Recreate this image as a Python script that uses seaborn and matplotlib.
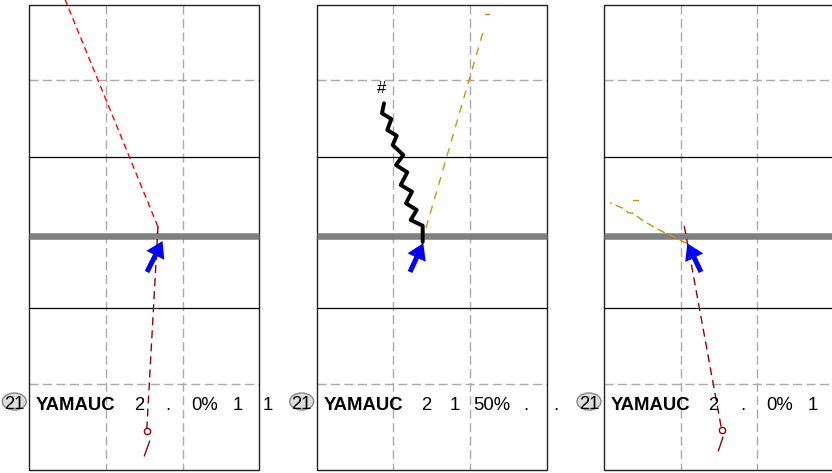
import matplotlib
matplotlib.use('Agg')
import matplotlib.pyplot as plt
from matplotlib.patches import Rectangle, Ellipse, FancyArrow
import numpy as np
import pandas as pd
import seaborn as sns

sns.set_theme(style='white')
plt.rcParams['font.family'] = ['Liberation Sans', 'DejaVu Sans']
plt.rcParams['text.color'] = 'black'

# 三个面板（像素坐标）
panel_left = [29.3, 316.7, 604.0]
player_no = '21'
player_name = 'YAMAUC'
stats = [['2', '.', '0%', '1', '1'],
         ['2', '1', '50%', '.', '.'],
         ['2', '.', '0%', '1']]
stat_x = [109.4, 138.5, 175.3, 208.8, 238.8]  # 相对面板左边

# 面板1
red1_x = [62, 158]
red1_y = [-8, 227]
maroon1_x = [158, 146.7]
maroon1_y = [226, 431]
maroon1_end_x = [149.7, 144.3]
maroon1_end_y = [441, 456]
arrow1 = (147, 272, 162.5, 241)

# 面板2
zig_x = [384, 382, 391.3, 387.3, 396.7, 392.7, 403.3, 396, 407.3, 400.7, 412, 406, 416.7, 410.7, 422.7, 422.7]
zig_y = [103.3, 113.3, 119, 130, 135.7, 145, 155, 165, 172.3, 185, 191.7, 203.3, 210, 220, 225.7, 242]
gold2_x = [426, 484.5]
gold2_y = [228, 27]
gold2_tick_x = [485, 489]
gold2_tick_y = [14, 14]
arrow2 = (410, 272, 423.3, 243)

# 面板3
gold3_x = [686.7, 658, 643, 633, 628, 626, 623, 615, 610]
gold3_y = [243.3, 229.3, 220.7, 213.3, 212.7, 210.7, 208.3, 205, 202.7]
gold3_tick_x = [633, 638]
gold3_tick_y = [200, 200]
maroon3_x = [684.3, 721.7]
maroon3_y = [226, 430]
maroon3_end_x = [723, 718.3]
maroon3_end_y = [437, 451]
arrow3 = (701, 272, 687.3, 243.3)

W, TOP, BOT = 230, 4.7, 470.3
NET_Y = 235.7
RED = '#ff0000'
MAROON = '#990000'
GOLD = '#c8960c'

fig = plt.figure(figsize=(8.32, 4.73), dpi=100)
ax = fig.add_axes([0, 0, 1, 1])
ax.set_xlim(0, 832)
ax.set_ylim(473, 0)
ax.axis('off')

for L in panel_left:
    for gx in (L + W / 3, L + 2 * W / 3):
        ax.plot([gx, gx], [TOP, BOT], color='#aaaaaa', lw=1, ls=(0, (6.5, 3.2)), zorder=1)
    for gy in (80.3, 384):
        ax.plot([L, L + W], [gy, gy], color='#aaaaaa', lw=1, ls=(0, (6.5, 3.2)), zorder=1)
    for gy in (156.7, 308.3):
        ax.plot([L, L + W], [gy, gy], color='black', lw=0.9, zorder=2)
    ax.add_patch(Rectangle((L, TOP), W, BOT - TOP, fill=False, ec='#222222', lw=1, zorder=2))
    ax.plot([L, L + W], [NET_Y, NET_Y], color='#808080', lw=4.7, solid_capstyle='butt', zorder=3)


def path(x, y, color, ls, lw=1.0):
    df = pd.DataFrame({'x': x, 'y': y})
    sns.lineplot(data=df, x='x', y='y', ax=ax, sort=False, estimator=None,
                 color=color, lw=lw, linestyle=ls, zorder=4)


# 面板1
path(red1_x, red1_y, RED, (0, (4.5, 3)))
path(maroon1_x, maroon1_y, MAROON, (0, (5.8, 3.6)))
path(maroon1_end_x, maroon1_end_y, MAROON, '-')
ax.plot(maroon1_x[-1], maroon1_y[-1], 'o', ms=4.5, mfc='white', mec=MAROON, mew=1, zorder=5)

# 面板2
path(zig_x, zig_y, 'black', '-', lw=2.8)
path(gold2_x, gold2_y, GOLD, (0, (5.8, 5)))
path(gold2_tick_x, gold2_tick_y, GOLD, '-')
ax.text(381.7, 88.3, '#', fontsize=12, ha='center', va='center', color='black')

# 面板3
path(gold3_x, gold3_y, GOLD, (0, (5.8, 3)))
path(gold3_tick_x, gold3_tick_y, GOLD, '-')
path(maroon3_x, maroon3_y, MAROON, (0, (5.8, 3.6)))
path(maroon3_end_x, maroon3_end_y, MAROON, '-')
ax.plot(maroon3_x[-1], maroon3_y[-1], 'o', ms=4.5, mfc='white', mec=MAROON, mew=1, zorder=5)

# 箭头
for (x0, y0, x1, y1) in (arrow1, arrow2, arrow3):
    ax.add_patch(FancyArrow(x0, y0, x1 - x0, y1 - y0, width=5, head_width=20,
                            head_length=16, length_includes_head=True,
                            color='#0000ff', lw=0, zorder=6))

# 文字行
TEXT_Y = 409.5
for L, row in zip(panel_left, stats):
    ax.add_patch(Ellipse((L - 15, 401.5), 24, 17, fc='#dddddd', ec='#888888', lw=1, zorder=6))
    ax.text(L - 15, TEXT_Y - 0.5, player_no, fontsize=13.3, ha='center', va='baseline',
            color='black', zorder=7)
    ax.text(L + 6.7, TEXT_Y, player_name, fontsize=13.3, fontweight='bold', ha='left',
            va='baseline', color='black', zorder=7)
    for sx, s in zip(stat_x, row):
        ax.text(L + sx, TEXT_Y, s, fontsize=13.3, ha='center', va='baseline', color='black', zorder=7)

plt.savefig('out.png', dpi=100)
